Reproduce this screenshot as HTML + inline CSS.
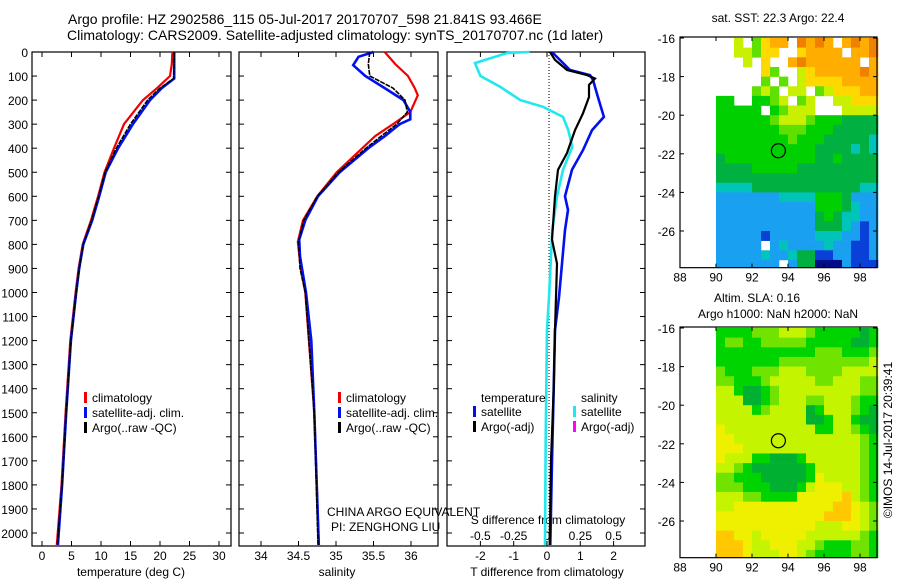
<!DOCTYPE html>
<html><head><meta charset="utf-8"><style>
body{margin:0;background:#fff;}
svg{display:block;font-family:"Liberation Sans",sans-serif;}
</style></head><body>
<svg id="fig" width="900" height="580" xmlns="http://www.w3.org/2000/svg">
<text x="68" y="24" font-size="14">Argo profile: HZ 2902586_115 05-Jul-2017 20170707_598 21.841S 93.466E</text>
<text x="67" y="40" font-size="14">Climatology: CARS2009. Satellite-adjusted climatology: synTS_20170707.nc (1d later)</text>
<g id="g"></g>
</svg>
<script>
// ---- Profile data ----
const depthTicks=[0,100,200,300,400,500,600,700,800,900,1000,1100,1200,1300,1400,1500,1600,1700,1800,1900,2000];
const tTicks=[0,5,10,15,20,25,30];
const sTicks=[34,34.5,35,35.5,36];
const dTTicks=[-2,-1,0,1,2];
const dSTicks=[-0.5,-0.25,0,0.25,0.5];
const dSTickLabels=["-0.5","-0.25","0","0.25","0.5"];
const tClimD=[0,50,100,150,200,300,400,500,600,700,800,900,1000,1200,1500,1800,2050];
const tClimV=[22.1,22.0,21.7,19.5,17.1,13.9,12.2,10.6,9.5,8.3,6.9,6.2,5.7,4.8,4.0,3.3,2.5];
const tSatD=[0,110,150,200,300,400,500,600,700,800,900,1000,1200,1500,1800,2050];
const tSatV=[22.4,22.4,20.3,18.3,15.4,12.9,10.8,9.7,8.5,7.0,6.3,5.8,4.9,4.1,3.4,2.7];
const tArgoD=[0,110,150,200,300,400,500,600,700,800,900,1000,1200,1500,1800,2050];
const tArgoV=[22.4,22.3,20.0,17.9,15.0,12.6,10.7,9.6,8.4,7.0,6.3,5.8,4.9,4.1,3.4,2.6];
const sClimD=[0,50,100,150,180,250,300,350,400,500,600,700,790,900,1000,1500,2050];
const sClimV=[35.65,35.79,35.96,36.05,36.09,35.99,35.76,35.52,35.35,35.01,34.75,34.56,34.49,34.53,34.59,34.71,34.77];
const sSatD=[0,20,55,100,150,200,250,280,300,350,400,500,600,700,780,850,1000,1200,1500,2050];
const sSatV=[35.5,35.3,35.23,35.39,35.65,35.9,35.99,35.99,35.85,35.65,35.43,35.05,34.76,34.59,34.51,34.52,34.6,34.67,34.71,34.77];
const sArgoD=[0,50,100,150,200,250,300,350,400,500,600,700,790,900,1000,1500,2050];
const sArgoV=[35.45,35.43,35.45,35.76,35.92,35.95,35.81,35.6,35.4,35.03,34.75,34.57,34.5,34.52,34.59,34.71,34.76];
const dTArgoD=[0,33,75,96,110,137,187,255,325,420,490,600,780,880,1020,1155,1400,1700,2050];
const dTArgoV=[0.09,0.24,0.6,1.2,1.44,1.26,1.26,1.08,0.84,0.6,0.33,0.24,0.15,0.3,0.27,0.24,0.2,0.12,0.08];
const dTSatD=[0,75,96,116,187,270,325,408,490,600,657,740,880,1020,1155,1400,1700,2050];
const dTSatV=[0.15,0.69,1.29,1.38,1.53,1.71,1.35,1.08,0.75,0.54,0.63,0.54,0.45,0.36,0.24,0.2,0.15,0.1];
const dSSatD=[0,4,46,100,145,200,228,270,325,395,490,600,740,1020,1155,1600,2050];
const dSSatV=[-0.13,-0.3,-0.54,-0.5,-0.35,-0.2,-0.03,0.12,0.16,0.19,0.12,0.075,0.04,0.015,0,-0.01,-0.015];
// ---- Map data (0.5 deg cells, lon 90..99, lat -16..-28) ----
const mapLon0=90, mapLat0=-16, cell=0.5;
const sstRows=["..7.6899.a9a9.9a9a","..77688..89999.99a","...7.8..9a999999.9",".....86..7899999a9",".....6.6.788889999","....676.77.6788899","55..5567.67..77888","55555.56777...7777","555555677765554444","555555566655544444","555555556555444443","555555555554444343","455555555554454444","444455555444444444","444444444444444444","333344444444444433","222222233335554222","222222222225554322","222222222224543322","222222222224443212","222221222223332212","22222.232222322112","222223223441122112","2222222.2440002111"];
const slaRows=["555566677765555545","566556666655555445","555555555556665556","555555566666666667","655566677766667777","665556777776677766","775445677777777766","777445677766777655","777756777745777654","777777777744577544","877777777775577654","887777777777777765","888777777777777765","877755444577777765","776544444457777765","665554444458777765","666555444578887765","777665555888889765","778888888888899876","888888888888999876","888888888887778876","998878888877777765","999877888776555665","999877788765555665"];
const sstColors={"0":"#000c88","1":"#0840d8","2":"#1aa0f0","3":"#00c4b8","4":"#00b040","5":"#00d000","6":"#60e000","7":"#c8f000","8":"#ffd800","9":"#ffae00","a":"#f08000"};
const slaColors={"4":"#00b030","5":"#00d400","6":"#70e400","7":"#c4f400","8":"#eef000","9":"#ffc800"};
const argoLon=93.466, argoLat=-21.841;

const NS="http://www.w3.org/2000/svg";
const G=document.getElementById('g');
function mk(tag,attrs,parent){const e=document.createElementNS(NS,tag);for(const k in attrs)e.setAttribute(k,attrs[k]);(parent||G).appendChild(e);return e;}
function txt(x,y,s,size,anchor,parent){const e=mk('text',{x:x,y:y,'font-size':size||13,'text-anchor':anchor||'start'},parent);e.textContent=s;return e;}

const yTop=52, yPer=0.2405, yBot=546;
const yD=d=>yTop+d*yPer;

function panel(x0,x1,name){
  const r=mk('rect',{x:x0,y:yTop,width:x1-x0,height:yBot-yTop,fill:'none',stroke:'#000','stroke-width':1.2});
  
  
  depthTicks.forEach(d=>{mk('line',{x1:x0,x2:x0+5,y1:yD(d),y2:yD(d),stroke:'#000'});mk('line',{x1:x1,x2:x1-5,y1:yD(d),y2:yD(d),stroke:'#000'});});
}
function line(ds,vs,fx,color,w,name,dash){
  const pts=ds.map((d,i)=>fx(vs[i]).toFixed(1)+','+yD(d).toFixed(1)).join(' ');
  const p=mk('polyline',{points:pts,fill:'none',stroke:color,'stroke-width':w});
  if(dash)p.setAttribute('stroke-dasharray',dash);
  
  
}
function legend(x,y,color,label,name){
  mk('rect',{x:x,y:y-10,width:3,height:11,fill:color});
  const t=txt(x+8,y,label,12);
  
  
}
// depth labels
depthTicks.forEach(d=>{const t=txt(28,yD(d)+5,String(d),12,'end');});

// Panel 1 temperature
const xT=v=>42+v*5.9;
panel(32,231,'temperature-panel');
tTicks.forEach(v=>{mk('line',{x1:xT(v),x2:xT(v),y1:yBot,y2:yBot-5,stroke:'#000'});mk('line',{x1:xT(v),x2:xT(v),y1:yTop,y2:yTop+5,stroke:'#000'});txt(xT(v),560,String(v),12,'middle');});
txt(131,576,'temperature (deg C)',12,'middle');
line(tClimD,tClimV,xT,'#f00000',2.2,'temp-climatology-line');
line(tSatD,tSatV,xT,'#0010f0',2.6,'temp-satellite-line');
line(tArgoD,tArgoV,xT,'#000',1.6,'temp-argo-line','5,1');
legend(84,402,'#f00000','climatology','legend-climatology');
legend(84,417,'#0010f0','satellite-adj. clim.','legend-satellite');
legend(84,432,'#000','Argo(..raw -QC)','legend-argo');

// Panel 2 salinity
const xS=v=>261+(v-34)*75;
panel(239,438,'salinity-panel');
sTicks.forEach(v=>{mk('line',{x1:xS(v),x2:xS(v),y1:yBot,y2:yBot-5,stroke:'#000'});mk('line',{x1:xS(v),x2:xS(v),y1:yTop,y2:yTop+5,stroke:'#000'});txt(xS(v),560,String(v),12,'middle');});
txt(337,576,'salinity',12,'middle');
line(sClimD,sClimV,xS,'#f00000',2.2,'sal-climatology-line');
line(sSatD,sSatV,xS,'#0010f0',2.6,'sal-satellite-line');
line(sArgoD,sArgoV,xS,'#000',1.6,'sal-argo-line','5,1');
legend(338,402,'#f00000','climatology','legend-sal-climatology');
legend(338,417,'#0010f0','satellite-adj. clim.','legend-sal-satellite');
legend(338,432,'#000','Argo(..raw -QC)','legend-sal-argo');
txt(327,516,'CHINA ARGO EQUIVALENT',12);
txt(331,531,'PI: ZENGHONG LIU',12);

// Panel 3 differences
const xDT=v=>547+v*33.3;
const xDS=v=>547+v*133.3;
panel(447,645,'difference-panel');
dTTicks.forEach(v=>{mk('line',{x1:xDT(v),x2:xDT(v),y1:yBot,y2:yBot-5,stroke:'#000'});mk('line',{x1:xDT(v),x2:xDT(v),y1:yTop,y2:yTop+5,stroke:'#000'});txt(xDT(v),560,String(v),12,'middle');});
dSTicks.forEach((v,i)=>{txt(xDS(v),540,dSTickLabels[i],12,'middle');});
mk('line',{x1:549,x2:549,y1:yTop,y2:yBot,stroke:'#000','stroke-dasharray':'1,2'});
txt(548,524,'S difference from climatology',12,'middle');
txt(547,576,'T difference from climatology',12,'middle');
line(dSSatD,dSSatV,xDS,'#20e8f0',2.6,'sal-diff-satellite-line');
line(dTSatD,dTSatV,xDT,'#0010f0',2.6,'temp-diff-satellite-line');
line(dTArgoD,dTArgoV,xDT,'#000',2.2,'temp-diff-argo-line');
txt(481,402,'temperature',12);
legend(473,416,'#0010f0','satellite','legend-tdiff-satellite');
legend(473,431,'#000','Argo(-adj)','legend-tdiff-argo');
txt(581,402,'salinity',12);
legend(573,416,'#20e8f0','satellite','legend-sdiff-satellite');
legend(573,431,'#ff00ff','Argo(-adj)','legend-sdiff-argo');

// Maps
const mx=lon=>680+(lon-88)*18;
function map(top,rows,colors,name){
  const my=lat=>top+(-16-lat)*19.3+1;
  const g=mk('g',{});
  
  
  const bottom=my(-27.9);
  rows.forEach((row,ri)=>{
    [...row].forEach((c,ci)=>{
      if(!colors[c])return;
      const lat=mapLat0-ri*cell, lon=mapLon0+ci*cell;
      const y1=Math.max(top,my(lat)), y2=Math.min(bottom,my(lat-cell));
      if(y2<=y1)return;
      mk('rect',{x:mx(lon),y:y1,width:mx(lon+cell)-mx(lon)+0.3,height:y2-y1+0.3,fill:colors[c]},g);
    });
  });
  mk('rect',{x:680,y:top,width:197,height:bottom-top,fill:'none',stroke:'#000','stroke-width':1.2});
  [88,90,92,94,96,98].forEach(l=>{mk('line',{x1:mx(l),x2:mx(l),y1:bottom,y2:bottom-4,stroke:'#000'});mk('line',{x1:mx(l),x2:mx(l),y1:top,y2:top+4,stroke:'#000'});txt(mx(l),bottom+14,String(l),12,'middle');});
  [-16,-18,-20,-22,-24,-26].forEach(l=>{mk('line',{x1:680,x2:684,y1:my(l),y2:my(l),stroke:'#000'});mk('line',{x1:877,x2:873,y1:my(l),y2:my(l),stroke:'#000'});txt(675,my(l)+5,String(l),12,'end');});
  const c=mk('circle',{cx:mx(argoLon),cy:my(argoLat),r:7,fill:'none',stroke:'#000','stroke-width':1.2});
  
  
}
map(37,sstRows,sstColors,'sst-map');
txt(778,22,'sat. SST: 22.3 Argo: 22.4',12,'middle');
map(327,slaRows,slaColors,'sla-map');
txt(757,302,'Altim. SLA: 0.16',12,'middle');
txt(778,318,'Argo h1000: NaN h2000: NaN',12,'middle');
const cr=txt(0,0,'©IMOS 14-Jul-2017 20:39:41',12,'middle');
cr.setAttribute('transform','translate(892,440) rotate(-90)');


</script>
</body></html>
